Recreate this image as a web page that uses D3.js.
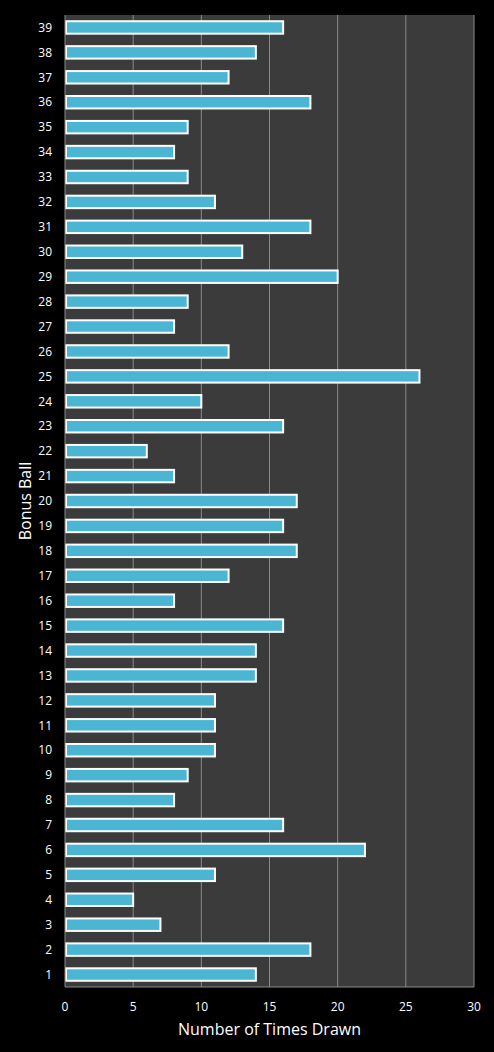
<!DOCTYPE html>
<html><head><meta charset="utf-8">
<script src="https://cdn.jsdelivr.net/npm/d3@7"></script>
<style>body{margin:0;background:#000;}svg{display:block;font-family:"Open Sans",sans-serif;}</style>
</head><body>
<svg id="chart" width="494" height="1052"></svg>
<script>
var balls = d3.range(1, 40).map(String);
var counts = [14,18,7,5,11,22,16,8,9,11,11,11,14,14,16,8,12,17,16,17,8,6,16,10,26,12,8,9,20,13,18,11,9,8,9,18,12,14,16];
var xTicks = [0,5,10,15,20,25,30];

var svg = d3.select("#chart");
var margin = {top: 15, right: 20, bottom: 65, left: 65},
    width = 494 - margin.left - margin.right,
    height = 1052 - margin.top - margin.bottom;
var g = svg.append("g").attr("transform", "translate(" + margin.left + "," + margin.top + ")");

var x = d3.scaleLinear().domain([0, 30]).range([0, width]);
var y = d3.scaleBand().domain(balls.slice().reverse()).range([0, height]).paddingInner(0.5).paddingOuter(0.25);

g.append("rect").attr("width", width).attr("height", height).attr("fill", "#3b3b3b");

g.selectAll(".grid").data(xTicks.slice(1)).enter().append("line")
  .attr("x1", d => x(d)).attr("x2", d => x(d))
  .attr("y1", 0).attr("y2", height)
  .attr("stroke", "#8a8a8a").attr("stroke-width", 1);

g.selectAll(".bar").data(balls).enter().append("rect")
  .attr("x", 1)
  .attr("y", d => y(d))
  .attr("width", (d, i) => x(counts[i]) - 1)
  .attr("height", y.bandwidth())
  .attr("fill", "#4bb6d3")
  .attr("stroke", "#ffffff").attr("stroke-width", 2);

g.append("line").attr("x1", 0).attr("x2", 0).attr("y1", 0).attr("y2", height).attr("stroke", "#8a8a8a");
g.append("line").attr("x1", 0).attr("x2", width).attr("y1", height).attr("y2", height).attr("stroke", "#8a8a8a");

g.selectAll(".ylab").data(balls).enter().append("text")
  .attr("x", -13).attr("y", d => y(d) + y.bandwidth() / 2).attr("dy", "0.35em")
  .attr("text-anchor", "end").attr("fill", "#fff").attr("font-size", 12).text(d => d);

g.selectAll(".xlab").data(xTicks).enter().append("text")
  .attr("x", d => x(d)).attr("y", height + 24)
  .attr("text-anchor", "middle").attr("fill", "#fff").attr("font-size", 12).text(d => d);

svg.append("text").attr("x", margin.left + width / 2).attr("y", 1035)
  .attr("text-anchor", "middle").attr("fill", "#fff").attr("font-size", 16).text("Number of Times Drawn");
svg.append("text").attr("transform", "translate(31," + (margin.top + height / 2) + ") rotate(-90)")
  .attr("text-anchor", "middle").attr("fill", "#fff").attr("font-size", 16).text("Bonus Ball");
</script>
</body></html>
